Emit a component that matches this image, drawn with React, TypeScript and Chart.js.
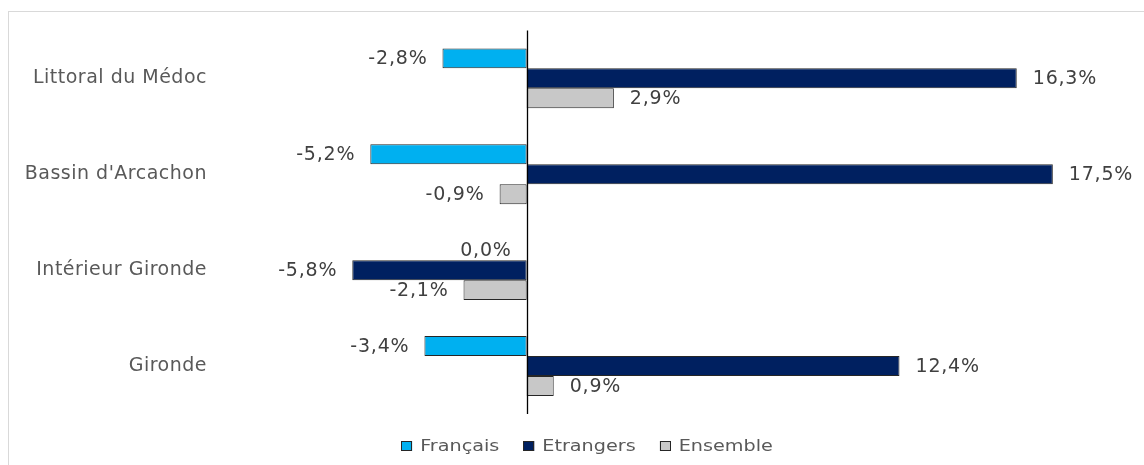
import React, { useEffect, useRef } from "react";
import { Chart, registerables } from "chart.js";

Chart.register(...registerables);

const categories = ["Littoral du Médoc", "Bassin d'Arcachon", "Intérieur Gironde", "Gironde"];
const francais = [-2.8, -5.2, 0.0, -3.4];
const etrangers = [16.3, 17.5, -5.8, 12.4];
const ensemble = [2.9, -0.9, -2.1, 0.9];
const seriesNames = ["Français", "Etrangers", "Ensemble"];
const seriesColors = ["#00b0f0", "#002060", "#c8c8c8"];

const FONT = "'DejaVu Sans', Verdana, sans-serif";

const fmt = (v: number) => v.toFixed(1).replace(".", ",") + "%";

const labelPlugin = {
  id: "customLabels",
  beforeDraw(chart: any) {
    chart.ctx.letterSpacing = "0.5px";
  },
  afterDatasetsDraw(chart: any) {
    const { ctx, chartArea, scales } = chart;
    // zero axis line
    const x0 = Math.round(scales.x.getPixelForValue(0)) + 0.5;
    ctx.save();
    ctx.strokeStyle = "#000000";
    ctx.lineWidth = 1.3;
    ctx.beginPath();
    ctx.moveTo(x0, chartArea.top);
    ctx.lineTo(x0, chartArea.bottom);
    ctx.stroke();
    // data labels
    ctx.font = `19px ${FONT}`;
    ctx.letterSpacing = "0.8px";
    ctx.fillStyle = "#404040";
    ctx.textBaseline = "middle";
    chart.data.datasets.forEach((ds: any, di: number) => {
      const meta = chart.getDatasetMeta(di);
      meta.data.forEach((el: any, i: number) => {
        const v = ds.data[i] as number;
        const txt = fmt(v);
        if (v > 0) {
          ctx.textAlign = "left";
          ctx.fillText(txt, el.x + 16, el.y + 1);
        } else {
          ctx.textAlign = "right";
          ctx.fillText(txt, el.x - 15, el.y + 1);
        }
      });
    });
    ctx.restore();
  },
  afterDraw(chart: any) {
    const { ctx } = chart;
    ctx.save();
    ctx.letterSpacing = "0px";
    const sx = 1.2;
    ctx.font = `16px ${FONT}`;
    const box = 11;
    const gap = 8;
    const spacing = 24;
    const widths = seriesNames.map((n) => ctx.measureText(n).width * sx);
    const total = widths.reduce((a, b) => a + b, 0) + seriesNames.length * (box + gap) + spacing * (seriesNames.length - 1);
    const cx = 587;
    const cy = 446;
    let x = cx - total / 2;
    seriesNames.forEach((n, i) => {
      ctx.fillStyle = seriesColors[i];
      ctx.fillRect(x, cy - 5, box, 10);
      ctx.strokeStyle = "#262626";
      ctx.lineWidth = 1;
      ctx.strokeRect(Math.round(x) + 0.5, cy - 5 + 0.5, box - 1, 9);
      const tx = x + box + gap;
      ctx.save();
      ctx.translate(tx, cy);
      ctx.scale(sx, 1);
      ctx.fillStyle = "#595959";
      ctx.textAlign = "left";
      ctx.textBaseline = "middle";
      ctx.fillText(n, 0, 1);
      ctx.restore();
      x = tx + widths[i] + spacing;
    });
    ctx.restore();
  },
};

export default function App() {
  const ref = useRef<HTMLCanvasElement | null>(null);
  useEffect(() => {
    if (!ref.current) return;
    const chart = new Chart(ref.current, {
      type: "bar",
      data: {
        labels: categories,
        datasets: [
          { label: seriesNames[0], data: francais, backgroundColor: seriesColors[0] },
          { label: seriesNames[1], data: etrangers, backgroundColor: seriesColors[1] },
          { label: seriesNames[2], data: ensemble, backgroundColor: seriesColors[2] },
        ].map((d) => ({
          ...d,
          borderColor: "#262626",
          borderWidth: 1,
          borderSkipped: false,
          categoryPercentage: 0.625,
          barPercentage: 1,
        })),
      },
      options: {
        indexAxis: "y",
        animation: false,
        responsive: false,
        devicePixelRatio: 1,
        layout: { padding: { top: 30, bottom: 51, left: 0, right: 16 } },
        scales: {
          x: { type: "linear", min: -10, max: 20, display: false },
          y: {
            type: "category",
            position: "left",
            grid: { display: false, drawTicks: false },
            border: { display: false },
            ticks: { font: { family: FONT, size: 19 }, color: "#595959", padding: 19 },
            afterFit: (s: any) => {
              s.width = 226;
            },
          },
        },
        plugins: { legend: { display: false }, tooltip: { enabled: false } },
      } as any,
      plugins: [labelPlugin],
    });
    return () => chart.destroy();
  }, []);
  return (
    <>
      <div
        style={{
          position: "fixed",
          left: 8,
          top: 11,
          width: 1136,
          height: 454,
          borderLeft: "1px solid #d9d9d9",
          borderTop: "1px solid #d9d9d9",
          boxSizing: "border-box",
        }}
      />
      <canvas
        ref={ref}
        width={1144}
        height={465}
        style={{ position: "fixed", left: 0, top: 0, width: 1144, height: 465 }}
      />
    </>
  );
}
